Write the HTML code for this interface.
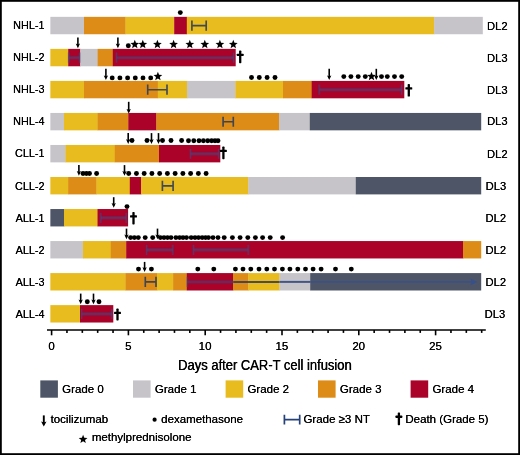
<!DOCTYPE html>
<html><head><meta charset="utf-8"><title>chart</title>
<style>
html,body{margin:0;padding:0;background:#fff;}
body{width:520px;height:455px;overflow:hidden;position:relative;}
svg{position:absolute;left:0;top:0;display:block;will-change:transform;}
text{font-family:"Liberation Sans",sans-serif;font-size:11.5px;fill:#000;}
</style></head><body>
<svg width="520" height="455" viewBox="0 0 520 455">
<rect x="0" y="0" width="520" height="455" fill="#fff"/>
<rect x="0.9" y="0.9" width="518.2" height="453.2" fill="none" stroke="#000" stroke-width="1.8"/>
<rect x="50.35" y="16.85" width="33.95" height="17.4" fill="#c6c4c9"/>
<rect x="84.00" y="16.85" width="41.80" height="17.4" fill="#dd8d17"/>
<rect x="125.50" y="16.85" width="49.00" height="17.4" fill="#e8bb1e"/>
<rect x="174.20" y="16.85" width="12.90" height="17.4" fill="#aa0229"/>
<rect x="186.80" y="16.85" width="247.60" height="17.4" fill="#e8bb1e"/>
<rect x="434.10" y="16.85" width="48.70" height="17.4" fill="#c6c4c9"/>
<text transform="translate(44.5 29.10) scale(0.96 1)" x="-0.08" y="0" text-anchor="end" style="font-size:11.3px">NHL-1</text><text transform="translate(44.5 29.10) scale(0.96 1)" x="0.08" y="0" text-anchor="end" style="font-size:11.3px">NHL-1</text>
<text x="486.92" y="29.5" style="font-size:11.2px">DL2</text><text x="487.08" y="29.5" style="font-size:11.2px">DL2</text>
<path d="M191.90 25.65H206.20M191.90 20.55V30.75M206.20 20.55V30.75" stroke="#2f3d58" stroke-width="1.65" fill="none" opacity="0.9"/>
<circle cx="180.30" cy="12.60" r="2.45" fill="#000"/>
<rect x="50.35" y="48.88" width="18.15" height="17.4" fill="#e8bb1e"/>
<rect x="68.20" y="48.88" width="12.30" height="17.4" fill="#aa0229"/>
<rect x="80.20" y="48.88" width="17.70" height="17.4" fill="#c6c4c9"/>
<rect x="97.60" y="48.88" width="15.50" height="17.4" fill="#dd8d17"/>
<rect x="112.80" y="48.88" width="122.90" height="17.4" fill="#aa0229"/>
<text transform="translate(44.5 61.10) scale(0.96 1)" x="-0.08" y="0" text-anchor="end" style="font-size:11.3px">NHL-2</text><text transform="translate(44.5 61.10) scale(0.96 1)" x="0.08" y="0" text-anchor="end" style="font-size:11.3px">NHL-2</text>
<text x="486.92" y="61.5" style="font-size:11.2px">DL3</text><text x="487.08" y="61.5" style="font-size:11.2px">DL3</text>
<path d="M68.90 57.68H79.60" stroke="#3a4f8c" stroke-width="3.8" fill="none" opacity="0.25"/><path d="M68.90 57.68H79.60" stroke="#3a4f8c" stroke-width="2.0" fill="none" opacity="0.42"/><path d="M68.90 52.58V62.78M79.60 52.58V62.78" stroke="#3a4f8c" stroke-width="2.6" fill="none" opacity="0.2"/><path d="M68.90 52.58V62.78M79.60 52.58V62.78" stroke="#3a4f8c" stroke-width="1.3" fill="none" opacity="0.4"/>
<path d="M116.50 57.68H233.60" stroke="#3a4f8c" stroke-width="3.8" fill="none" opacity="0.25"/><path d="M116.50 57.68H233.60" stroke="#3a4f8c" stroke-width="2.0" fill="none" opacity="0.42"/><path d="M116.50 52.58V62.78M233.60 52.58V62.78" stroke="#3a4f8c" stroke-width="2.6" fill="none" opacity="0.2"/><path d="M116.50 52.58V62.78M233.60 52.58V62.78" stroke="#3a4f8c" stroke-width="1.3" fill="none" opacity="0.4"/>
<path d="M77.90 37.60V46.20" stroke="#000" stroke-width="1.6" fill="none"/><path d="M75.75 43.50L77.90 44.40L80.05 43.50L77.90 48.20Z" fill="#000"/>
<path d="M117.90 37.60V46.20" stroke="#000" stroke-width="1.6" fill="none"/><path d="M115.75 43.50L117.90 44.40L120.05 43.50L117.90 48.20Z" fill="#000"/>
<circle cx="128.30" cy="45.80" r="2.45" fill="#000"/>
<polygon points="134.80,39.85 135.98,42.83 139.17,43.03 136.70,45.07 137.50,48.17 134.80,46.45 132.10,48.17 132.90,45.07 130.43,43.03 133.62,42.83" fill="#000"/>
<polygon points="142.80,39.85 143.98,42.83 147.17,43.03 144.70,45.07 145.50,48.17 142.80,46.45 140.10,48.17 140.90,45.07 138.43,43.03 141.62,42.83" fill="#000"/>
<polygon points="157.40,39.85 158.58,42.83 161.77,43.03 159.30,45.07 160.10,48.17 157.40,46.45 154.70,48.17 155.50,45.07 153.03,43.03 156.22,42.83" fill="#000"/>
<polygon points="173.60,39.85 174.78,42.83 177.97,43.03 175.50,45.07 176.30,48.17 173.60,46.45 170.90,48.17 171.70,45.07 169.23,43.03 172.42,42.83" fill="#000"/>
<polygon points="189.80,39.85 190.98,42.83 194.17,43.03 191.70,45.07 192.50,48.17 189.80,46.45 187.10,48.17 187.90,45.07 185.43,43.03 188.62,42.83" fill="#000"/>
<polygon points="204.80,39.85 205.98,42.83 209.17,43.03 206.70,45.07 207.50,48.17 204.80,46.45 202.10,48.17 202.90,45.07 200.43,43.03 203.62,42.83" fill="#000"/>
<polygon points="219.90,39.85 221.08,42.83 224.27,43.03 221.80,45.07 222.60,48.17 219.90,46.45 217.20,48.17 218.00,45.07 215.53,43.03 218.72,42.83" fill="#000"/>
<polygon points="233.30,39.85 234.48,42.83 237.67,43.03 235.20,45.07 236.00,48.17 233.30,46.45 230.60,48.17 231.40,45.07 228.93,43.03 232.12,42.83" fill="#000"/>
<rect x="239.05" y="50.50" width="2.3" height="12.70" rx="0.7" fill="#000"/><rect x="236.75" y="53.70" width="6.9" height="2.3" rx="0.6" fill="#000"/>
<rect x="50.35" y="80.91" width="33.95" height="17.4" fill="#e8bb1e"/>
<rect x="84.00" y="80.91" width="74.10" height="17.4" fill="#dd8d17"/>
<rect x="157.80" y="80.91" width="29.50" height="17.4" fill="#e8bb1e"/>
<rect x="187.00" y="80.91" width="48.70" height="17.4" fill="#c6c4c9"/>
<rect x="235.40" y="80.91" width="47.90" height="17.4" fill="#e8bb1e"/>
<rect x="283.00" y="80.91" width="29.00" height="17.4" fill="#dd8d17"/>
<rect x="311.70" y="80.91" width="92.60" height="17.4" fill="#aa0229"/>
<text transform="translate(44.5 93.10) scale(0.96 1)" x="-0.08" y="0" text-anchor="end" style="font-size:11.3px">NHL-3</text><text transform="translate(44.5 93.10) scale(0.96 1)" x="0.08" y="0" text-anchor="end" style="font-size:11.3px">NHL-3</text>
<text x="486.92" y="93.5" style="font-size:11.2px">DL3</text><text x="487.08" y="93.5" style="font-size:11.2px">DL3</text>
<path d="M147.70 89.71H167.00M147.70 84.61V94.81M167.00 84.61V94.81" stroke="#2f3d58" stroke-width="1.65" fill="none" opacity="0.9"/>
<path d="M319.20 89.71H401.60" stroke="#3a4f8c" stroke-width="3.8" fill="none" opacity="0.25"/><path d="M319.20 89.71H401.60" stroke="#3a4f8c" stroke-width="2.0" fill="none" opacity="0.42"/><path d="M319.20 84.61V94.81M401.60 84.61V94.81" stroke="#3a4f8c" stroke-width="2.6" fill="none" opacity="0.2"/><path d="M319.20 84.61V94.81M401.60 84.61V94.81" stroke="#3a4f8c" stroke-width="1.3" fill="none" opacity="0.4"/>
<path d="M105.90 68.80V78.10" stroke="#000" stroke-width="1.6" fill="none"/><path d="M103.75 75.40L105.90 76.30L108.05 75.40L105.90 80.10Z" fill="#000"/>
<path d="M329.20 68.80V78.10" stroke="#000" stroke-width="1.6" fill="none"/><path d="M327.05 75.40L329.20 76.30L331.35 75.40L329.20 80.10Z" fill="#000"/>
<path d="M376.30 68.80V78.10" stroke="#000" stroke-width="1.6" fill="none"/><path d="M374.15 75.40L376.30 76.30L378.45 75.40L376.30 80.10Z" fill="#000"/>
<circle cx="112.20" cy="77.90" r="2.45" fill="#000"/>
<circle cx="119.90" cy="77.90" r="2.45" fill="#000"/>
<circle cx="127.60" cy="77.90" r="2.45" fill="#000"/>
<circle cx="135.30" cy="77.90" r="2.45" fill="#000"/>
<circle cx="143.00" cy="77.90" r="2.45" fill="#000"/>
<circle cx="150.70" cy="77.90" r="2.45" fill="#000"/>
<circle cx="251.50" cy="77.50" r="2.45" fill="#000"/>
<circle cx="259.30" cy="77.50" r="2.45" fill="#000"/>
<circle cx="267.10" cy="77.50" r="2.45" fill="#000"/>
<circle cx="275.00" cy="77.50" r="2.45" fill="#000"/>
<circle cx="343.80" cy="76.60" r="2.45" fill="#000"/>
<circle cx="350.90" cy="76.60" r="2.45" fill="#000"/>
<circle cx="358.20" cy="76.60" r="2.45" fill="#000"/>
<circle cx="365.30" cy="76.60" r="2.45" fill="#000"/>
<circle cx="381.50" cy="76.60" r="2.45" fill="#000"/>
<circle cx="387.30" cy="76.60" r="2.45" fill="#000"/>
<circle cx="394.50" cy="76.60" r="2.45" fill="#000"/>
<circle cx="401.70" cy="76.60" r="2.45" fill="#000"/>
<polygon points="157.90,71.85 159.08,74.83 162.27,75.03 159.80,77.07 160.60,80.17 157.90,78.45 155.20,80.17 156.00,77.07 153.53,75.03 156.72,74.83" fill="#000"/>
<polygon points="371.50,71.85 372.68,74.83 375.87,75.03 373.40,77.07 374.20,80.17 371.50,78.45 368.80,80.17 369.60,77.07 367.13,75.03 370.32,74.83" fill="#000"/>
<rect x="407.65" y="84.00" width="2.3" height="12.60" rx="0.7" fill="#000"/><rect x="405.35" y="87.20" width="6.9" height="2.3" rx="0.6" fill="#000"/>
<rect x="50.35" y="112.94" width="13.95" height="17.4" fill="#c6c4c9"/>
<rect x="64.00" y="112.94" width="33.80" height="17.4" fill="#e8bb1e"/>
<rect x="97.50" y="112.94" width="31.10" height="17.4" fill="#dd8d17"/>
<rect x="128.30" y="112.94" width="28.30" height="17.4" fill="#aa0229"/>
<rect x="156.30" y="112.94" width="123.00" height="17.4" fill="#dd8d17"/>
<rect x="279.00" y="112.94" width="31.10" height="17.4" fill="#c6c4c9"/>
<rect x="309.80" y="112.94" width="171.40" height="17.4" fill="#4e5567"/>
<text transform="translate(44.5 125.05) scale(0.96 1)" x="-0.08" y="0" text-anchor="end" style="font-size:11.3px">NHL-4</text><text transform="translate(44.5 125.05) scale(0.96 1)" x="0.08" y="0" text-anchor="end" style="font-size:11.3px">NHL-4</text>
<text x="487.02" y="125.45" style="font-size:11.2px">DL3</text><text x="487.18" y="125.45" style="font-size:11.2px">DL3</text>
<path d="M223.10 121.74H233.30M223.10 116.64V126.84M233.30 116.64V126.84" stroke="#2f3d58" stroke-width="1.65" fill="none" opacity="0.9"/>
<path d="M128.70 101.80V111.60" stroke="#000" stroke-width="1.6" fill="none"/><path d="M126.55 108.90L128.70 109.80L130.85 108.90L128.70 113.60Z" fill="#000"/>
<rect x="50.35" y="144.97" width="15.45" height="17.4" fill="#c6c4c9"/>
<rect x="65.50" y="144.97" width="49.60" height="17.4" fill="#e8bb1e"/>
<rect x="114.80" y="144.97" width="44.50" height="17.4" fill="#dd8d17"/>
<rect x="159.00" y="144.97" width="61.30" height="17.4" fill="#aa0229"/>
<text transform="translate(44.5 157.10) scale(0.96 1)" x="-0.08" y="0" text-anchor="end" style="font-size:11.3px">CLL-1</text><text transform="translate(44.5 157.10) scale(0.96 1)" x="0.08" y="0" text-anchor="end" style="font-size:11.3px">CLL-1</text>
<text x="486.92" y="157.5" style="font-size:11.2px">DL2</text><text x="487.08" y="157.5" style="font-size:11.2px">DL2</text>
<path d="M190.50 153.77H218.60" stroke="#3a4f8c" stroke-width="3.8" fill="none" opacity="0.25"/><path d="M190.50 153.77H218.60" stroke="#3a4f8c" stroke-width="2.0" fill="none" opacity="0.42"/><path d="M190.50 148.67V158.87M218.60 148.67V158.87" stroke="#3a4f8c" stroke-width="2.6" fill="none" opacity="0.2"/><path d="M190.50 148.67V158.87M218.60 148.67V158.87" stroke="#3a4f8c" stroke-width="1.3" fill="none" opacity="0.4"/>
<path d="M128.20 133.10V141.90" stroke="#000" stroke-width="1.6" fill="none"/><path d="M126.05 139.20L128.20 140.10L130.35 139.20L128.20 143.90Z" fill="#000"/>
<path d="M151.50 133.10V141.90" stroke="#000" stroke-width="1.6" fill="none"/><path d="M149.35 139.20L151.50 140.10L153.65 139.20L151.50 143.90Z" fill="#000"/>
<path d="M158.50 133.10V141.90" stroke="#000" stroke-width="1.6" fill="none"/><path d="M156.35 139.20L158.50 140.10L160.65 139.20L158.50 143.90Z" fill="#000"/>
<circle cx="132.00" cy="140.50" r="2.45" fill="#000"/>
<circle cx="147.00" cy="140.50" r="2.45" fill="#000"/>
<circle cx="162.50" cy="140.50" r="2.45" fill="#000"/>
<circle cx="171.00" cy="140.50" r="2.45" fill="#000"/>
<circle cx="181.60" cy="140.50" r="2.45" fill="#000"/>
<circle cx="188.50" cy="140.80" r="2.45" fill="#000"/>
<circle cx="193.80" cy="140.80" r="2.45" fill="#000"/>
<circle cx="199.00" cy="140.80" r="2.45" fill="#000"/>
<circle cx="203.40" cy="140.80" r="2.45" fill="#000"/>
<circle cx="207.70" cy="140.80" r="2.45" fill="#000"/>
<circle cx="211.60" cy="140.80" r="2.45" fill="#000"/>
<circle cx="215.00" cy="140.80" r="2.45" fill="#000"/>
<circle cx="218.00" cy="140.80" r="2.45" fill="#000"/>
<rect x="222.25" y="146.50" width="2.3" height="12.70" rx="0.7" fill="#000"/><rect x="219.95" y="149.70" width="6.9" height="2.3" rx="0.6" fill="#000"/>
<rect x="50.35" y="177.00" width="18.05" height="17.4" fill="#e8bb1e"/>
<rect x="68.10" y="177.00" width="28.70" height="17.4" fill="#dd8d17"/>
<rect x="96.50" y="177.00" width="33.60" height="17.4" fill="#e8bb1e"/>
<rect x="129.80" y="177.00" width="11.60" height="17.4" fill="#aa0229"/>
<rect x="141.10" y="177.00" width="107.50" height="17.4" fill="#e8bb1e"/>
<rect x="248.30" y="177.00" width="107.80" height="17.4" fill="#c6c4c9"/>
<rect x="355.80" y="177.00" width="125.40" height="17.4" fill="#4e5567"/>
<text transform="translate(44.5 189.50) scale(0.96 1)" x="-0.08" y="0" text-anchor="end" style="font-size:11.3px">CLL-2</text><text transform="translate(44.5 189.50) scale(0.96 1)" x="0.08" y="0" text-anchor="end" style="font-size:11.3px">CLL-2</text>
<text x="485.62" y="189.9" style="font-size:11.2px">DL3</text><text x="485.78" y="189.9" style="font-size:11.2px">DL3</text>
<path d="M162.40 185.80H173.10M162.40 180.70V190.90M173.10 180.70V190.90" stroke="#2f3d58" stroke-width="1.65" fill="none" opacity="0.9"/>
<path d="M78.90 165.10V173.70" stroke="#000" stroke-width="1.6" fill="none"/><path d="M76.75 171.00L78.90 171.90L81.05 171.00L78.90 175.70Z" fill="#000"/>
<path d="M124.50 165.10V173.70" stroke="#000" stroke-width="1.6" fill="none"/><path d="M122.35 171.00L124.50 171.90L126.65 171.00L124.50 175.70Z" fill="#000"/>
<circle cx="83.00" cy="173.50" r="2.45" fill="#000"/>
<circle cx="86.40" cy="173.50" r="2.45" fill="#000"/>
<circle cx="89.50" cy="173.50" r="2.45" fill="#000"/>
<circle cx="96.60" cy="173.50" r="2.45" fill="#000"/>
<circle cx="128.70" cy="173.50" r="2.45" fill="#000"/>
<circle cx="136.44" cy="173.50" r="2.45" fill="#000"/>
<circle cx="144.18" cy="173.50" r="2.45" fill="#000"/>
<circle cx="151.92" cy="173.50" r="2.45" fill="#000"/>
<circle cx="159.66" cy="173.50" r="2.45" fill="#000"/>
<circle cx="167.40" cy="173.50" r="2.45" fill="#000"/>
<circle cx="175.14" cy="173.50" r="2.45" fill="#000"/>
<circle cx="182.88" cy="173.50" r="2.45" fill="#000"/>
<circle cx="190.62" cy="173.50" r="2.45" fill="#000"/>
<circle cx="198.36" cy="173.50" r="2.45" fill="#000"/>
<circle cx="206.10" cy="173.50" r="2.45" fill="#000"/>
<rect x="50.35" y="209.03" width="13.95" height="17.4" fill="#4e5567"/>
<rect x="64.00" y="209.03" width="33.80" height="17.4" fill="#e8bb1e"/>
<rect x="97.50" y="209.03" width="30.60" height="17.4" fill="#aa0229"/>
<text transform="translate(44.5 221.50) scale(0.96 1)" x="-0.08" y="0" text-anchor="end" style="font-size:11.3px">ALL-1</text><text transform="translate(44.5 221.50) scale(0.96 1)" x="0.08" y="0" text-anchor="end" style="font-size:11.3px">ALL-1</text>
<text x="485.42" y="221.9" style="font-size:11.2px">DL2</text><text x="485.58" y="221.9" style="font-size:11.2px">DL2</text>
<path d="M100.80 217.83H126.30" stroke="#3a4f8c" stroke-width="3.8" fill="none" opacity="0.25"/><path d="M100.80 217.83H126.30" stroke="#3a4f8c" stroke-width="2.0" fill="none" opacity="0.42"/><path d="M100.80 212.73V222.93M126.30 212.73V222.93" stroke="#3a4f8c" stroke-width="2.6" fill="none" opacity="0.2"/><path d="M100.80 212.73V222.93M126.30 212.73V222.93" stroke="#3a4f8c" stroke-width="1.3" fill="none" opacity="0.4"/>
<path d="M113.70 197.20V205.80" stroke="#000" stroke-width="1.6" fill="none"/><path d="M111.55 203.10L113.70 204.00L115.85 203.10L113.70 207.80Z" fill="#000"/>
<circle cx="127.00" cy="206.60" r="2.45" fill="#000"/>
<rect x="132.35" y="212.00" width="2.3" height="12.40" rx="0.7" fill="#000"/><rect x="130.05" y="215.20" width="6.9" height="2.3" rx="0.6" fill="#000"/>
<rect x="50.35" y="241.06" width="32.95" height="17.4" fill="#c6c4c9"/>
<rect x="83.00" y="241.06" width="28.10" height="17.4" fill="#e8bb1e"/>
<rect x="110.80" y="241.06" width="15.70" height="17.4" fill="#dd8d17"/>
<rect x="126.20" y="241.06" width="337.10" height="17.4" fill="#aa0229"/>
<rect x="463.00" y="241.06" width="18.20" height="17.4" fill="#dd8d17"/>
<text transform="translate(44.5 253.50) scale(0.96 1)" x="-0.08" y="0" text-anchor="end" style="font-size:11.3px">ALL-2</text><text transform="translate(44.5 253.50) scale(0.96 1)" x="0.08" y="0" text-anchor="end" style="font-size:11.3px">ALL-2</text>
<text x="485.42" y="253.9" style="font-size:11.2px">DL2</text><text x="485.58" y="253.9" style="font-size:11.2px">DL2</text>
<path d="M146.60 249.86H172.80" stroke="#3a4f8c" stroke-width="3.8" fill="none" opacity="0.25"/><path d="M146.60 249.86H172.80" stroke="#3a4f8c" stroke-width="2.0" fill="none" opacity="0.42"/><path d="M146.60 244.76V254.96M172.80 244.76V254.96" stroke="#3a4f8c" stroke-width="2.6" fill="none" opacity="0.2"/><path d="M146.60 244.76V254.96M172.80 244.76V254.96" stroke="#3a4f8c" stroke-width="1.3" fill="none" opacity="0.4"/>
<path d="M193.50 249.86H248.30" stroke="#3a4f8c" stroke-width="3.8" fill="none" opacity="0.25"/><path d="M193.50 249.86H248.30" stroke="#3a4f8c" stroke-width="2.0" fill="none" opacity="0.42"/><path d="M193.50 244.76V254.96M248.30 244.76V254.96" stroke="#3a4f8c" stroke-width="2.6" fill="none" opacity="0.2"/><path d="M193.50 244.76V254.96M248.30 244.76V254.96" stroke="#3a4f8c" stroke-width="1.3" fill="none" opacity="0.4"/>
<path d="M126.50 228.60V237.20" stroke="#000" stroke-width="1.6" fill="none"/><path d="M124.35 234.50L126.50 235.40L128.65 234.50L126.50 239.20Z" fill="#000"/>
<path d="M157.50 228.60V237.20" stroke="#000" stroke-width="1.6" fill="none"/><path d="M155.35 234.50L157.50 235.40L159.65 234.50L157.50 239.20Z" fill="#000"/>
<circle cx="130.60" cy="237.60" r="2.45" fill="#000"/>
<circle cx="134.40" cy="237.60" r="2.45" fill="#000"/>
<circle cx="138.30" cy="237.60" r="2.45" fill="#000"/>
<circle cx="145.20" cy="237.60" r="2.45" fill="#000"/>
<circle cx="152.70" cy="237.60" r="2.45" fill="#000"/>
<circle cx="160.40" cy="237.60" r="2.45" fill="#000"/>
<circle cx="164.00" cy="237.60" r="2.45" fill="#000"/>
<circle cx="167.50" cy="237.60" r="2.45" fill="#000"/>
<circle cx="171.00" cy="237.60" r="2.45" fill="#000"/>
<circle cx="175.90" cy="237.60" r="2.45" fill="#000"/>
<circle cx="179.60" cy="237.60" r="2.45" fill="#000"/>
<circle cx="183.00" cy="237.60" r="2.45" fill="#000"/>
<circle cx="186.50" cy="237.60" r="2.45" fill="#000"/>
<circle cx="191.20" cy="237.60" r="2.45" fill="#000"/>
<circle cx="195.00" cy="237.60" r="2.45" fill="#000"/>
<circle cx="198.50" cy="237.60" r="2.45" fill="#000"/>
<circle cx="202.20" cy="237.60" r="2.45" fill="#000"/>
<circle cx="205.50" cy="237.60" r="2.45" fill="#000"/>
<circle cx="208.50" cy="237.60" r="2.45" fill="#000"/>
<circle cx="213.00" cy="237.60" r="2.45" fill="#000"/>
<circle cx="218.00" cy="237.60" r="2.45" fill="#000"/>
<circle cx="224.20" cy="237.60" r="2.45" fill="#000"/>
<circle cx="232.40" cy="237.60" r="2.45" fill="#000"/>
<circle cx="240.10" cy="237.60" r="2.45" fill="#000"/>
<circle cx="247.80" cy="237.60" r="2.45" fill="#000"/>
<circle cx="255.40" cy="237.60" r="2.45" fill="#000"/>
<circle cx="262.60" cy="237.60" r="2.45" fill="#000"/>
<circle cx="270.20" cy="237.60" r="2.45" fill="#000"/>
<circle cx="282.60" cy="237.60" r="2.45" fill="#000"/>
<rect x="50.35" y="273.09" width="75.45" height="17.4" fill="#e8bb1e"/>
<rect x="125.50" y="273.09" width="31.80" height="17.4" fill="#dd8d17"/>
<rect x="157.00" y="273.09" width="16.40" height="17.4" fill="#e8bb1e"/>
<rect x="173.10" y="273.09" width="14.00" height="17.4" fill="#dd8d17"/>
<rect x="186.80" y="273.09" width="46.50" height="17.4" fill="#aa0229"/>
<rect x="233.00" y="273.09" width="15.60" height="17.4" fill="#dd8d17"/>
<rect x="248.30" y="273.09" width="31.40" height="17.4" fill="#e8bb1e"/>
<rect x="279.40" y="273.09" width="31.10" height="17.4" fill="#c6c4c9"/>
<rect x="310.20" y="273.09" width="171.00" height="17.4" fill="#4e5567"/>
<text transform="translate(44.5 285.50) scale(0.96 1)" x="-0.08" y="0" text-anchor="end" style="font-size:11.3px">ALL-3</text><text transform="translate(44.5 285.50) scale(0.96 1)" x="0.08" y="0" text-anchor="end" style="font-size:11.3px">ALL-3</text>
<text x="485.42" y="285.9" style="font-size:11.2px">DL2</text><text x="485.58" y="285.9" style="font-size:11.2px">DL2</text>
<path d="M145.30 281.89H156.00M145.30 276.79V286.99M156.00 276.79V286.99" stroke="#2f3d58" stroke-width="1.65" fill="none" opacity="0.9"/>
<path d="M187.4 276.79V286.99" stroke="#3a4a8a" stroke-width="1.6" fill="none" opacity="0.45"/>
<path d="M187 281.89H233.2" stroke="#3a4a8a" stroke-width="3.2" fill="none" opacity="0.28"/>
<path d="M187 281.89H233.2" stroke="#3a4a8a" stroke-width="1.5" fill="none" opacity="0.5"/>
<path d="M233.2 281.89H279.6" stroke="#2f3a60" stroke-width="2" fill="none" opacity="0.85"/>
<path d="M279.6 281.89H310.2" stroke="#34497e" stroke-width="2" fill="none" opacity="0.9"/>
<path d="M310.2 281.89H472" stroke="#36508e" stroke-width="1.8" fill="none" opacity="0.75"/>
<path d="M470.3 278.59L477.6 281.89L470.3 285.19L471.9 281.89Z" fill="#36508e" opacity="0.95"/>
<path d="M144.60 261.90V269.90" stroke="#000" stroke-width="1.6" fill="none"/><path d="M142.45 267.20L144.60 268.10L146.75 267.20L144.60 271.90Z" fill="#000"/>
<circle cx="138.50" cy="269.10" r="2.45" fill="#000"/>
<circle cx="151.40" cy="269.10" r="2.45" fill="#000"/>
<circle cx="197.80" cy="269.10" r="2.45" fill="#000"/>
<circle cx="213.80" cy="269.10" r="2.45" fill="#000"/>
<circle cx="235.40" cy="269.10" r="2.45" fill="#000"/>
<circle cx="243.00" cy="269.10" r="2.45" fill="#000"/>
<circle cx="250.80" cy="269.10" r="2.45" fill="#000"/>
<circle cx="259.00" cy="269.10" r="2.45" fill="#000"/>
<circle cx="266.80" cy="269.10" r="2.45" fill="#000"/>
<circle cx="274.50" cy="269.10" r="2.45" fill="#000"/>
<circle cx="282.40" cy="269.10" r="2.45" fill="#000"/>
<circle cx="289.90" cy="269.10" r="2.45" fill="#000"/>
<circle cx="297.80" cy="269.10" r="2.45" fill="#000"/>
<circle cx="305.50" cy="269.10" r="2.45" fill="#000"/>
<circle cx="313.10" cy="269.10" r="2.45" fill="#000"/>
<circle cx="321.10" cy="269.10" r="2.45" fill="#000"/>
<circle cx="335.50" cy="269.10" r="2.45" fill="#000"/>
<circle cx="351.30" cy="269.10" r="2.45" fill="#000"/>
<rect x="50.35" y="305.12" width="29.95" height="17.4" fill="#e8bb1e"/>
<rect x="80.00" y="305.12" width="33.30" height="17.4" fill="#aa0229"/>
<text transform="translate(44.5 317.80) scale(0.96 1)" x="-0.08" y="0" text-anchor="end" style="font-size:11.3px">ALL-4</text><text transform="translate(44.5 317.80) scale(0.96 1)" x="0.08" y="0" text-anchor="end" style="font-size:11.3px">ALL-4</text>
<text x="484.62" y="318.2" style="font-size:11.2px">DL3</text><text x="484.78" y="318.2" style="font-size:11.2px">DL3</text>
<path d="M81.60 313.92H112.00" stroke="#3a4f8c" stroke-width="3.8" fill="none" opacity="0.25"/><path d="M81.60 313.92H112.00" stroke="#3a4f8c" stroke-width="2.0" fill="none" opacity="0.42"/><path d="M81.60 308.82V319.02M112.00 308.82V319.02" stroke="#3a4f8c" stroke-width="2.6" fill="none" opacity="0.2"/><path d="M81.60 308.82V319.02M112.00 308.82V319.02" stroke="#3a4f8c" stroke-width="1.3" fill="none" opacity="0.4"/>
<path d="M80.70 293.60V302.20" stroke="#000" stroke-width="1.6" fill="none"/><path d="M78.55 299.50L80.70 300.40L82.85 299.50L80.70 304.20Z" fill="#000"/>
<path d="M93.50 293.60V302.20" stroke="#000" stroke-width="1.6" fill="none"/><path d="M91.35 299.50L93.50 300.40L95.65 299.50L93.50 304.20Z" fill="#000"/>
<circle cx="87.30" cy="301.80" r="2.45" fill="#000"/>
<circle cx="99.00" cy="301.80" r="2.45" fill="#000"/>
<rect x="116.35" y="308.50" width="2.3" height="12.00" rx="0.7" fill="#000"/><rect x="114.05" y="311.70" width="6.9" height="2.3" rx="0.6" fill="#000"/>
<path d="M47 330H485.8" stroke="#000" stroke-width="1.7" fill="none"/>
<path d="M51.60 330V335.3" stroke="#000" stroke-width="1.6"/>
<text x="51.42" y="349.6" text-anchor="middle">0</text><text x="51.58" y="349.6" text-anchor="middle">0</text>
<path d="M66.96 330V332.9" stroke="#000" stroke-width="1.6"/>
<path d="M82.32 330V332.9" stroke="#000" stroke-width="1.6"/>
<path d="M97.68 330V332.9" stroke="#000" stroke-width="1.6"/>
<path d="M113.04 330V332.9" stroke="#000" stroke-width="1.6"/>
<path d="M128.40 330V335.3" stroke="#000" stroke-width="1.6"/>
<text x="128.22" y="349.6" text-anchor="middle">5</text><text x="128.38" y="349.6" text-anchor="middle">5</text>
<path d="M143.76 330V332.9" stroke="#000" stroke-width="1.6"/>
<path d="M159.12 330V332.9" stroke="#000" stroke-width="1.6"/>
<path d="M174.48 330V332.9" stroke="#000" stroke-width="1.6"/>
<path d="M189.84 330V332.9" stroke="#000" stroke-width="1.6"/>
<path d="M205.20 330V335.3" stroke="#000" stroke-width="1.6"/>
<text x="205.02" y="349.6" text-anchor="middle">10</text><text x="205.18" y="349.6" text-anchor="middle">10</text>
<path d="M220.56 330V332.9" stroke="#000" stroke-width="1.6"/>
<path d="M235.92 330V332.9" stroke="#000" stroke-width="1.6"/>
<path d="M251.28 330V332.9" stroke="#000" stroke-width="1.6"/>
<path d="M266.64 330V332.9" stroke="#000" stroke-width="1.6"/>
<path d="M282.00 330V335.3" stroke="#000" stroke-width="1.6"/>
<text x="281.82" y="349.6" text-anchor="middle">15</text><text x="281.98" y="349.6" text-anchor="middle">15</text>
<path d="M297.36 330V332.9" stroke="#000" stroke-width="1.6"/>
<path d="M312.72 330V332.9" stroke="#000" stroke-width="1.6"/>
<path d="M328.08 330V332.9" stroke="#000" stroke-width="1.6"/>
<path d="M343.44 330V332.9" stroke="#000" stroke-width="1.6"/>
<path d="M358.80 330V335.3" stroke="#000" stroke-width="1.6"/>
<text x="358.62" y="349.6" text-anchor="middle">20</text><text x="358.78" y="349.6" text-anchor="middle">20</text>
<path d="M374.16 330V332.9" stroke="#000" stroke-width="1.6"/>
<path d="M389.52 330V332.9" stroke="#000" stroke-width="1.6"/>
<path d="M404.88 330V332.9" stroke="#000" stroke-width="1.6"/>
<path d="M420.24 330V332.9" stroke="#000" stroke-width="1.6"/>
<path d="M435.60 330V335.3" stroke="#000" stroke-width="1.6"/>
<text x="435.42" y="349.6" text-anchor="middle">25</text><text x="435.58" y="349.6" text-anchor="middle">25</text>
<path d="M450.96 330V332.9" stroke="#000" stroke-width="1.6"/>
<path d="M466.32 330V332.9" stroke="#000" stroke-width="1.6"/>
<path d="M481.68 330V332.9" stroke="#000" stroke-width="1.6"/>
<text transform="translate(178.0 369.7) scale(0.878 1)" x="0" y="0" style="font-size:14.8px">Days after CAR-T cell infusion</text><text transform="translate(178.35 369.7) scale(0.878 1)" x="0" y="0" style="font-size:14.8px">Days after CAR-T cell infusion</text>
<rect x="40.3" y="380.4" width="17.6" height="17.3" fill="#4e5567"/>
<text x="62.12" y="393.1">Grade 0</text><text x="62.28" y="393.1">Grade 0</text>
<rect x="133" y="380.4" width="17.6" height="17.3" fill="#c6c4c9"/>
<text x="154.82" y="393.1">Grade 1</text><text x="154.98" y="393.1">Grade 1</text>
<rect x="225.6" y="380.4" width="17.6" height="17.3" fill="#e8bb1e"/>
<text x="247.42" y="393.1">Grade 2</text><text x="247.58" y="393.1">Grade 2</text>
<rect x="318" y="380.4" width="17.6" height="17.3" fill="#dd8d17"/>
<text x="339.82" y="393.1">Grade 3</text><text x="339.98" y="393.1">Grade 3</text>
<rect x="410.6" y="380.4" width="17.6" height="17.3" fill="#aa0229"/>
<text x="432.42" y="393.1">Grade 4</text><text x="432.58" y="393.1">Grade 4</text>
<path d="M43.80 415.40V424.40" stroke="#000" stroke-width="1.9" fill="none"/><path d="M41.10 421.60L43.80 422.50L46.50 421.60L43.80 426.40Z" fill="#000"/>
<text x="50.52" y="423.1">tocilizumab</text><text x="50.68" y="423.1">tocilizumab</text>
<circle cx="154.6" cy="419.7" r="2.1" fill="#000"/>
<text x="161.12" y="422.7">dexamethasone</text><text x="161.28" y="422.7">dexamethasone</text>
<path d="M284.40 419.60H299.70M284.40 414.80V424.40M299.70 414.80V424.40" stroke="#26417a" stroke-width="1.7" fill="none" opacity="1"/>
<text x="303.42" y="423.0">Grade ≥3 NT</text><text x="303.58" y="423.0">Grade ≥3 NT</text>
<rect x="397.75" y="412.40" width="2.3" height="12.80" rx="0.7" fill="#000"/><rect x="395.45" y="415.60" width="6.9" height="2.3" rx="0.6" fill="#000"/>
<text x="405.32" y="422.7">Death (Grade 5)</text><text x="405.48" y="422.7">Death (Grade 5)</text>
<polygon points="83.10,434.70 84.28,437.68 87.47,437.88 85.00,439.92 85.80,443.02 83.10,441.30 80.40,443.02 81.20,439.92 78.73,437.88 81.92,437.68" fill="#000"/>
<text x="91.72" y="441.0">methylprednisolone</text><text x="91.88" y="441.0">methylprednisolone</text>
</svg>
</body></html>
